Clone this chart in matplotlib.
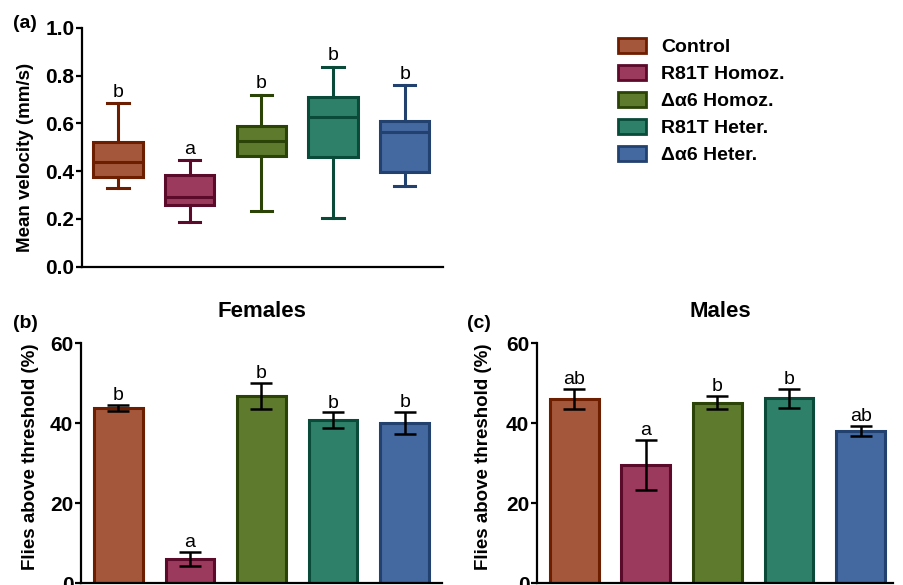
import matplotlib.pyplot as plt
from matplotlib.patches import Patch

plt.rcParams['font.family'] = ['Liberation Sans', 'DejaVu Sans']

groups = ['Control', 'R81T Homoz.', 'Δα6 Homoz.', 'R81T Heter.', 'Δα6 Heter.']
fills = ['#A5573B', '#9B3A5C', '#5E7B2D', '#2E8068', '#4468A0']
edges = ['#6E1E00', '#5C0A2A', '#2B4306', '#0A4A38', '#23416F']

# (a) box summaries, mean velocity (mm/s)
whis_lo = [0.33, 0.188, 0.233, 0.202, 0.338]
q1 = [0.377, 0.258, 0.463, 0.460, 0.398]
med = [0.438, 0.293, 0.526, 0.628, 0.564]
q3 = [0.520, 0.386, 0.589, 0.711, 0.611]
whis_hi = [0.686, 0.446, 0.720, 0.837, 0.760]
letters_a = ['b', 'a', 'b', 'b', 'b']

# (b) females, flies above threshold (%)
fem_mean = [43.8, 6.1, 46.8, 40.8, 40.1]
fem_err = [0.8, 1.8, 3.2, 1.9, 2.8]
letters_b = ['b', 'a', 'b', 'b', 'b']

# (c) males
male_mean = [46.0, 29.5, 45.1, 46.2, 38.1]
male_err = [2.5, 6.3, 1.65, 2.3, 1.2]
letters_c = ['ab', 'a', 'b', 'b', 'ab']

pos = list(range(len(groups)))

fig = plt.figure(figsize=(9.04, 5.85), dpi=100)
ax_a = fig.add_axes([0.0907, 0.544, 0.399, 0.4085])
ax_b = fig.add_axes([0.0896, 0.0029, 0.3993, 0.4105])
ax_c = fig.add_axes([0.594, 0.0029, 0.3938, 0.4105])


def style(ax):
    for s in ['top', 'right']:
        ax.spines[s].set_visible(False)
    for s in ['left', 'bottom']:
        ax.spines[s].set_linewidth(1.6)
    ax.tick_params(axis='y', width=1.6, length=4, pad=1.5, labelsize=15)
    ax.tick_params(axis='x', bottom=False, labelbottom=False)
    for lab in ax.get_yticklabels():
        lab.set_fontweight('bold')


# ── (a) box plot ──
stats = [dict(whislo=whis_lo[i], q1=q1[i], med=med[i], q3=q3[i],
              whishi=whis_hi[i], fliers=[]) for i in pos]
bp = ax_a.bxp(stats, positions=pos, widths=0.69, patch_artist=True,
              showfliers=False, capwidths=0.3)
for i in pos:
    bp['boxes'][i].set(facecolor=fills[i], edgecolor=edges[i], linewidth=2.2)
    bp['medians'][i].set(color=edges[i], linewidth=2.2)
    for ln in bp['whiskers'][2*i:2*i+2] + bp['caps'][2*i:2*i+2]:
        ln.set(color=edges[i], linewidth=2.2)
    ax_a.annotate(letters_a[i], xy=(i, whis_hi[i]), xytext=(0, 4.5),
                  textcoords='offset points', ha='center', va='baseline', fontsize=14)
ax_a.set_xlim(-0.5, 4.53)
ax_a.set_ylim(0, 1.0)
ax_a.set_yticks([0.0, 0.2, 0.4, 0.6, 0.8, 1.0])
ax_a.set_yticklabels(['0.0', '0.2', '0.4', '0.6', '0.8', '1.0'])
ax_a.set_ylabel('Mean velocity (mm/s)', fontsize=13.5, fontweight='bold')
ax_a.yaxis.set_label_coords(-0.133, 0.457)
style(ax_a)


# ── (b), (c) bar plots ──
def bars(ax, means, errs, letters, xlim, title, tx):
    ax.bar(pos, means, width=0.68, color=fills, edgecolor=edges, linewidth=2.2, zorder=2)
    ax.errorbar(pos, means, yerr=errs, fmt='none', ecolor='black', elinewidth=1.8,
                capsize=8, capthick=1.8, zorder=3)
    for i in pos:
        ax.annotate(letters[i], xy=(i, means[i] + errs[i]), xytext=(0, 3.5),
                    textcoords='offset points', ha='center', va='baseline', fontsize=14)
    ax.set_xlim(*xlim)
    ax.set_ylim(0, 60)
    ax.set_yticks([0, 20, 40, 60])
    ax.set_ylabel('Flies above threshold (%)', fontsize=13.5, fontweight='bold')
    ax.set_title(title, fontsize=16, fontweight='bold', pad=19, x=tx)
    style(ax)


bars(ax_b, fem_mean, fem_err, letters_b, (-0.52, 4.52), 'Females', 0.5)
ax_b.yaxis.set_label_coords(-0.116, 0.528)
bars(ax_c, male_mean, male_err, letters_c, (-0.52, 4.45), 'Males', 0.515)
ax_c.yaxis.set_label_coords(-0.126, 0.528)

# legend
handles = [Patch(facecolor=fills[i], edgecolor=edges[i], linewidth=2) for i in pos]
fig.legend(handles, groups, loc='upper left', bbox_to_anchor=(618/904, 1 - 38/585),
           frameon=False, borderpad=0, borderaxespad=0, handlelength=1.45,
           handleheight=0.8, handletextpad=0.75, labelspacing=0.45,
           prop=dict(size=14, weight='bold'))

fig.text(13/904, 1 - 28/585, '(a)', fontsize=14, fontweight='bold')
fig.text(13/904, 1 - 328/585, '(b)', fontsize=14, fontweight='bold')
fig.text(467/904, 1 - 328/585, '(c)', fontsize=14, fontweight='bold')

fig.savefig('out.png', dpi=100)
